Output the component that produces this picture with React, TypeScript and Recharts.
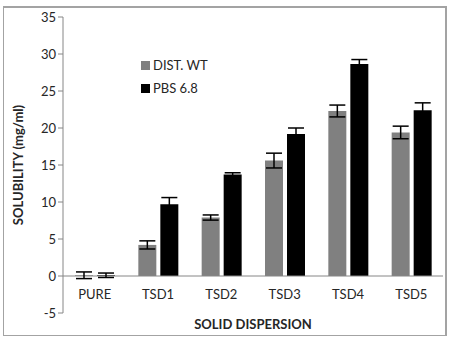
import React from 'react';
import { BarChart, Bar, XAxis, YAxis, ErrorBar, ReferenceLine, Legend, Label } from 'recharts';

const categories = ['PURE', 'TSD1', 'TSD2', 'TSD3', 'TSD4', 'TSD5'];
const distWater = [0.1, 4.2, 7.9, 15.6, 22.3, 19.4];
const distWaterErr = [0.45, 0.55, 0.35, 1.0, 0.8, 0.85];
const pbs68 = [0.1, 9.7, 13.7, 19.2, 28.65, 22.4];
const pbs68Err = [0.3, 0.9, 0.25, 0.8, 0.6, 1.0];
const yTicks = [-5, 0, 5, 10, 15, 20, 25, 30, 35];

const data = categories.map((name, i) => ({
  name,
  dist: distWater[i],
  distErr: distWaterErr[i],
  pbs: pbs68[i],
  pbsErr: pbs68Err[i],
}));

const FONT = 'Lato, "Open Sans", sans-serif';
const TEXT = '#262626';
const AXIS = '#868686';

// Category labels sit just under the zero line rather than at the bottom of the plot.
const CategoryTick = (props: any) => {
  const { x, y, payload } = props;
  return (
    <text x={x} y={y} dy={-22} textAnchor="middle" fontFamily={FONT} fontSize={13} fill={TEXT}>
      {payload.value}
    </text>
  );
};

const LegendBox = () => (
  <div style={{ fontFamily: FONT, fontSize: 13, color: TEXT, lineHeight: '23px' }}>
    {[
      { label: 'DIST. WT', color: '#808080' },
      { label: 'PBS 6.8', color: '#000000' },
    ].map((it) => (
      <div key={it.label} style={{ display: 'flex', alignItems: 'center' }}>
        <span style={{ width: 9, height: 9, background: it.color, display: 'inline-block', marginRight: 3 }} />
        <span>{it.label}</span>
      </div>
    ))}
  </div>
);

export default function App() {
  return (
    <div
      style={{
        position: 'absolute',
        left: 0,
        top: 0,
        width: 449,
        height: 338,
        background: '#fff',
      }}
    >
      <div
        style={{
          position: 'absolute',
          left: 3,
          top: 6,
          width: 444,
          height: 330,
          borderTop: '2px solid #a3a3a3',
          borderRight: '2px solid #a3a3a3',
          borderLeft: '1px solid #a3a3a3',
          borderBottom: '1px solid #a3a3a3',
          boxSizing: 'border-box',
        }}
      />
      <BarChart
        width={449}
        height={338}
        data={data}
        margin={{ top: 17, right: 6, bottom: 0, left: 0 }}
        barSize={18}
        barGap={4}
      >
        <XAxis dataKey="name" axisLine={false} tickLine={false} height={25} tick={<CategoryTick />} interval={0}>
          <Label
            value="SOLID DISPERSION"
            position="insideBottom"
            offset={9}
            style={{ fontFamily: FONT, fontSize: 13, fontWeight: 700, fill: TEXT }}
          />
        </XAxis>
        <YAxis
          width={63}
          domain={[-5, 35]}
          ticks={yTicks}
          interval={0}
          axisLine={{ stroke: AXIS }}
          tickLine={{ stroke: AXIS }}
          tickSize={5}
          tick={{ fontFamily: FONT, fontSize: 13, fill: TEXT }}
        >
          <Label
            value="SOLUBILITY (mg/ml)"
            angle={-90}
            position="insideLeft"
            offset={18}
            style={{ fontFamily: FONT, fontSize: 13, fontWeight: 700, fill: TEXT, textAnchor: 'middle' }}
          />
        </YAxis>
        <ReferenceLine y={0} stroke={AXIS} />
        <Legend
          content={<LegendBox />}
          layout="vertical"
          verticalAlign="middle"
          align="center"
          wrapperStyle={{ left: 141, top: 54, width: 100 }}
        />
        <Bar dataKey="dist" name="DIST. WT" fill="#808080" isAnimationActive={false}>
          <ErrorBar dataKey="distErr" width={8} stroke="#000" strokeWidth={1.5} />
        </Bar>
        <Bar dataKey="pbs" name="PBS 6.8" fill="#000000" isAnimationActive={false}>
          <ErrorBar dataKey="pbsErr" width={8} stroke="#000" strokeWidth={1.5} />
        </Bar>
      </BarChart>
    </div>
  );
}
